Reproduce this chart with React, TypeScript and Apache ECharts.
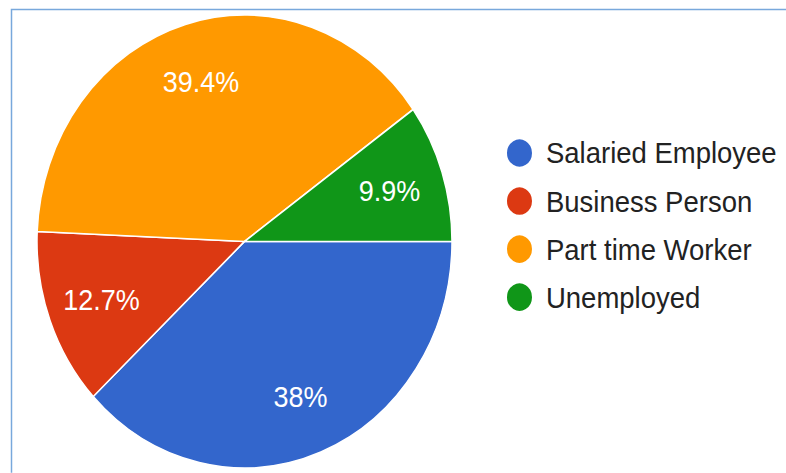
import React, { useEffect, useRef } from "react";
import * as echarts from "echarts";

const categories = ["Salaried Employee", "Business Person", "Part time Worker", "Unemployed"];
const values = [38, 12.7, 39.4, 9.9];
const colors = ["#3366cc", "#dc3912", "#ff9900", "#109618"];

const SY = 1.0916;
const W = 786;
const H = 473 / SY;

export default function App() {
  const ref = useRef<HTMLDivElement>(null);
  useEffect(() => {
    if (!ref.current) return;
    const chart = echarts.init(ref.current, null, { renderer: "svg" });
    const data = categories.map((name, i) => ({ name, value: values[i], itemStyle: { color: colors[i] } }));
    const R = 207.5;
    chart.setOption({
      animation: false,
      backgroundColor: "#ffffff",
      textStyle: { fontFamily: "'Liberation Sans', Arial, sans-serif" },
      graphic: [
        {
          type: "rect",
          shape: { x: 11.5, y: 8.7, width: 1200, height: 1200 },
          style: { fill: "none", stroke: "#78a8dc", lineWidth: 1.5 },
          z: 100,
          silent: true,
        },
      ],
      legend: {
        data: categories,
        orient: "vertical",
        left: 505,
        top: 125.7,
        padding: 0,
        icon: "circle",
        itemWidth: 27,
        itemHeight: 27,
        itemGap: 15,
        selectedMode: false,
        textStyle: {
          fontSize: 27.5,
          color: "#222222",
          lineHeight: 27,
          padding: [0, 0, 0, 8],
          fontFamily: "'Liberation Sans', Arial, sans-serif",
        },
      },
      series: [
        {
          type: "pie",
          center: [244.5, 221.2],
          radius: [0, R],
          startAngle: 0,
          clockwise: true,
          silent: true,
          label: { show: false },
          labelLine: { show: false },
          itemStyle: { borderColor: "#ffffff", borderWidth: 1.5 },
          emphasis: { disabled: true },
          data,
        },
        {
          type: "pie",
          center: [244.5, 221.2],
          radius: [R * 0.44, R],
          startAngle: 0,
          clockwise: true,
          silent: true,
          itemStyle: { color: "rgba(0,0,0,0)", borderWidth: 0 },
          emphasis: { disabled: true },
          labelLine: { show: false },
          label: {
            show: true,
            position: "inside",
            formatter: "{d}%",
            color: "#ffffff",
            fontSize: 27,
            fontFamily: "'Liberation Sans', Arial, sans-serif",
          },
          data: categories.map((name, i) => ({ name, value: values[i] })),
        },
      ],
    });
    return () => chart.dispose();
  }, []);
  return (
    <div
      style={{
        position: "fixed",
        left: 0,
        top: 0,
        width: W,
        height: H,
        transform: `scaleY(${SY})`,
        transformOrigin: "0 0",
        background: "#fff",
      }}
    >
      <div ref={ref} style={{ width: W, height: H }} />
    </div>
  );
}
